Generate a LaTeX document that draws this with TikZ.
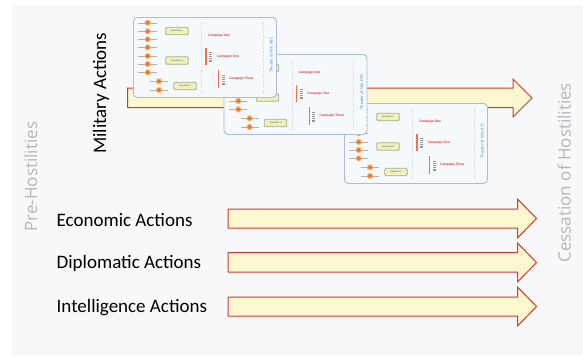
\documentclass[tikz,border=0pt]{standalone}
\usepackage{fontspec}
\setmainfont{Carlito}
\newfontfamily\phasefont{Open Sans}
\usetikzlibrary{shapes.geometric}

\definecolor{panel}{HTML}{F6F8F9}
\definecolor{arrowfill}{HTML}{FBF8D0}
\definecolor{arrowline}{HTML}{D23A35}
\definecolor{cardline}{HTML}{A9BDD6}
\definecolor{cardfill}{HTML}{F6F9FC}
\definecolor{burstorange}{HTML}{F7A04A}
\definecolor{burstcore}{HTML}{E8702A}
\definecolor{opfill}{HTML}{EFF0BC}
\definecolor{opline}{HTML}{9FB08A}
\definecolor{camptext}{HTML}{E03A3A}
\definecolor{campbar}{HTML}{F2704A}
\definecolor{stackgrey}{HTML}{8E979E}
\definecolor{theatertext}{HTML}{5A90D6}
\definecolor{faint}{HTML}{B4B7BA}

\tikzset{
  actarrow/.style={fill=arrowfill,draw=arrowline,line width=1pt,line join=miter},
  actlabel/.style={anchor=base west,inner sep=0pt,font=\fontsize{19}{22}\selectfont},
  phase/.style={anchor=base west,inner sep=0pt,rotate=90,text=faint,
    font=\phasefont\fontsize{17}{20}\selectfont},
  cardbox/.style={draw=cardline,fill=cardfill,line width=0.9pt,rounded corners=4pt,
    minimum width=143pt,minimum height=80pt,inner sep=0pt},
  guide/.style={draw=gray!35,line width=0.3pt,dotted},
  tick/.style={draw=gray!60,line width=0.4pt},
  burst/.style={star,star points=12,star point ratio=1.7,minimum size=7pt,inner sep=0pt,
    fill=burstorange,draw=none},
  burstdot/.style={circle,minimum size=3.6pt,inner sep=0pt,fill=burstcore},
  opbox/.style={rounded corners=1.2pt,fill=opfill,draw=opline,line width=0.8pt,
    minimum width=22.5pt,minimum height=7.5pt,inner sep=0pt,text=gray!70!black,
    font=\fontsize{2.4}{2.7}\selectfont},
  camp/.style={anchor=west,inner sep=0pt,text=camptext,font=\bfseries\fontsize{3.6}{4}\selectfont},
  campline/.style={draw=campbar,line width=1.3pt},
  stack/.style={fill=stackgrey,draw=none,minimum width=3pt,minimum height=10pt,inner sep=0pt},
  theater/.style={rotate=90,inner sep=0pt,text=theatertext,font=\fontsize{4.4}{5}\selectfont},
  pics/theater/.style={code={
    \node[cardbox,anchor=north west] (-box) at (0,0) {};
    % dotted section guides
    \draw[guide] (68.5,6) -- (68.5,76);
    \draw[guide] (130,6) -- (130,76);
    % event markers along the timeline
    \foreach \k/\yy in {1/5.7,2/14.3,3/22.3,4/30.3,5/39,6/47,7/55.3}{
      \draw[tick] (5,\yy) -- (23.7,\yy);
      \node[burst] (-b\k) at (14.7,\yy) {};
      \node[burstdot] at (-b\k.center) {};
    }
    \foreach \k/\yy in {8/64.3,9/73}{
      \draw[tick] (17,\yy) -- (35,\yy);
      \node[burst] (-b\k) at (26,\yy) {};
      \node[burstdot] at (-b\k.center) {};
    }
    % operations
    \node[opbox] (-opA) at (44,14) {Operation A};
    \node[opbox] (-opB) at (44,43.5) {Operation B};
    \node[opbox] (-opC) at (52,69) {Operation C};
    % campaigns
    \node[camp] (-c1) at (75,18.7) {Campaign One};
    \draw[campline] (73,31) -- (73,48);
    \node[stack] (-s2) at (77.7,39.7) {};
    \foreach \yy in {36.5,38.5,40.5,42.5}{\draw[white,line width=0.3pt] (76.2,\yy) -- (79.2,\yy);}
    \node[camp] (-c2) at (83.7,40) {Campaign Two};
    \draw[campline] (85.7,53) -- (85.7,71);
    \node[stack] (-s3) at (90,62.5) {};
    \foreach \yy in {59.3,61.3,63.3,65.3}{\draw[white,line width=0.3pt] (88.5,\yy) -- (91.5,\yy);}
    \node[camp] (-c3) at (96,62) {Campaign Three};
    % theatre name
    \node[theater] (-name) at (138,38) {#1};
  }}
}

\begin{document}
\begin{tikzpicture}[x=1pt,y=-1pt]
  \useasboundingbox (0,0) rectangle (583,356);
  \fill[white] (0,0) rectangle (583,356);
  \fill[panel] (12,5) rectangle (583,355);

  % lines of effort
  \draw[actarrow] (127.5,88) -- (513,88) -- (513,79) -- (532,98) -- (513,117)
    -- (513,107.7) -- (127.5,107.7) -- cycle;
  \draw[actarrow] (228,209) -- (517.5,209) -- (517.5,199) -- (536.5,218.5) -- (517.5,238)
    -- (517.5,228) -- (228,228) -- cycle;
  \draw[actarrow] (228,252.5) -- (517.5,252.5) -- (517.5,243) -- (536.5,262.5) -- (517.5,282)
    -- (517.5,272) -- (228,272) -- cycle;
  \draw[actarrow] (228,297) -- (517.5,297) -- (517.5,287) -- (536.5,306.5) -- (517.5,326)
    -- (517.5,316) -- (228,316) -- cycle;

  % theatres of war, back to front
  \pic (thC) at (344,103) {theater=Theater of War XYZ};
  \pic (thB) at (223.5,54) {theater=Theater of War DEF};
  \pic (thA) at (133,17) {theater=Theater of War ABC};

  % labels
  \node[actlabel,rotate=90] (mil) at (106,154) {Military Actions};
  \node[actlabel] (eco) at (56.5,226) {Economic Actions};
  \node[actlabel] (dip) at (56.5,268.7) {Diplomatic Actions};
  \node[actlabel] (int) at (56.5,312) {Intelligence Actions};
  \node[phase] (pre) at (37,231.7) {Pre-Hostilities};
  \node[phase] (post) at (570.5,262.7) {Cessation of Hostilities};
\end{tikzpicture}
\end{document}
